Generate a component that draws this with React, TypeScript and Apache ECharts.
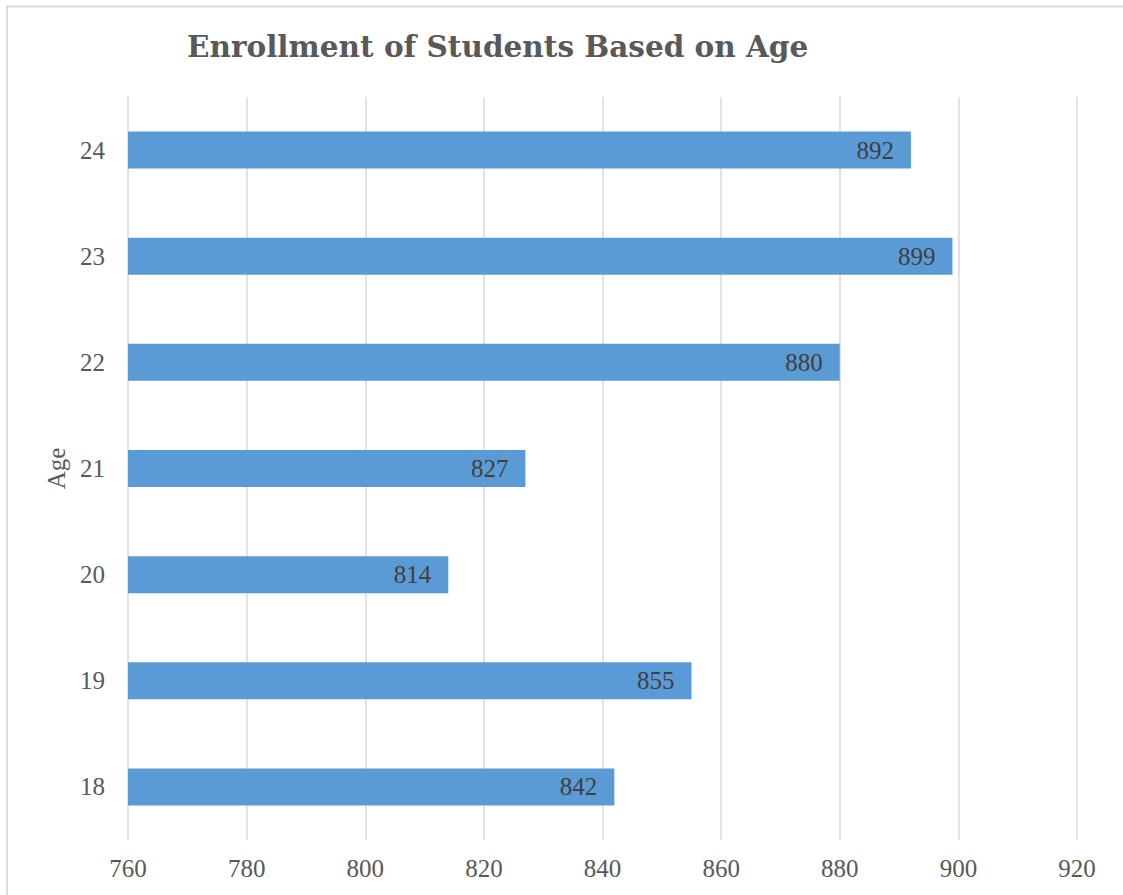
import React, { useEffect, useRef } from "react";
import * as echarts from "echarts";

const categories = ["18", "19", "20", "21", "22", "23", "24"];
const values = [842, 855, 814, 827, 880, 899, 892];
const xMin = 760;
const xMax = 920;
const xStep = 20;

const serif = "'Liberation Serif', 'Times New Roman', serif";

export default function App() {
  const ref = useRef<HTMLDivElement>(null);
  useEffect(() => {
    const chart = echarts.init(ref.current!, null, { renderer: "svg" });
    chart.setOption({
      animation: false,
      backgroundColor: "#ffffff",
      title: {
        text: "Enrollment of Students Based on Age",
        left: 182,
        top: 26,
        textStyle: {
          fontFamily: "'DejaVu Serif'",
          fontWeight: "bold",
          fontSize: 29.5,
          color: "#595959",
        },
      },
      graphic: [
        {
          type: "polyline",
          shape: { points: [[7, 960], [7, 6.5], [1130, 6.5]] },
          style: { stroke: "#d9d9d9", lineWidth: 2, fill: "none" },
          silent: true,
        },
      ],
      grid: { left: 128, right: 46, top: 97, bottom: 55, containLabel: false },
      xAxis: {
        type: "value",
        min: xMin,
        max: xMax,
        interval: xStep,
        axisLine: { show: false },
        axisTick: { show: false },
        splitLine: { show: true, lineStyle: { color: "#d9d9d9", width: 1.5 } },
        axisLabel: {
          fontFamily: serif,
          fontSize: 25,
          color: "#595959",
          margin: 16,
        },
      },
      yAxis: {
        type: "category",
        data: categories,
        name: "Age",
        nameLocation: "middle",
        nameGap: 52,
        nameTextStyle: {
          fontFamily: serif,
          fontSize: 25,
          color: "#595959",
        },
        axisLine: { show: false },
        axisTick: { show: false },
        splitLine: { show: false },
        axisLabel: {
          fontFamily: serif,
          fontSize: 25,
          color: "#595959",
          margin: 23,
        },
      },
      series: [
        {
          type: "bar",
          data: values,
          barWidth: 37,
          itemStyle: { color: "#5b9bd5" },
          label: {
            show: true,
            position: "insideRight",
            distance: 17,
            fontFamily: serif,
            fontSize: 25,
            color: "#404040",
          },
        },
      ],
    });
    return () => chart.dispose();
  }, []);
  return (
    <div
      ref={ref}
      style={{ position: "fixed", left: 0, top: 0, width: 1123, height: 895 }}
    />
  );
}
